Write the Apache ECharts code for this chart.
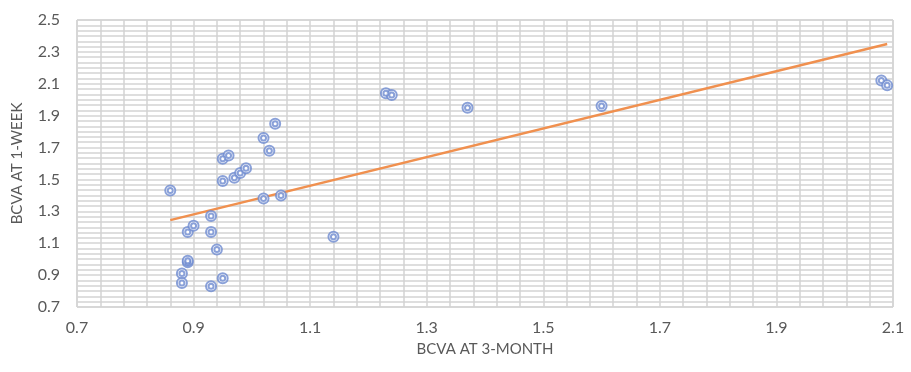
<!DOCTYPE html>
<html>
<head>
<meta charset="utf-8">
<script src="https://cdn.jsdelivr.net/npm/echarts@6/dist/echarts.min.js"></script>
<style>html,body{margin:0;padding:0;background:#fff}#c{width:911px;height:372px}</style>
</head>
<body>
<div id="c"></div>
<script>
// BCVA at 3-month (x) vs BCVA at 1-week (y)
var bcva3Month = [0.86, 0.89, 0.90, 0.89, 0.89, 0.88, 0.88, 0.93, 0.93, 0.94, 0.93, 0.95, 0.95, 0.95, 0.96, 0.97, 0.98, 0.99, 1.02, 1.03, 1.04, 1.02, 1.05, 1.14, 1.23, 1.24, 1.37, 1.60, 2.08, 2.09];
var bcva1Week  = [1.43, 1.17, 1.21, 0.98, 0.99, 0.91, 0.85, 1.27, 1.17, 1.06, 0.83, 0.88, 1.49, 1.63, 1.65, 1.51, 1.54, 1.57, 1.76, 1.68, 1.85, 1.38, 1.40, 1.14, 2.04, 2.03, 1.95, 1.96, 2.12, 2.09];
// Trend line end points
var trendX = [0.86, 2.09];
var trendY = [1.245, 2.35];
var xTicks = [0.7, 0.9, 1.1, 1.3, 1.5, 1.7, 1.9, 2.1];
var yTicks = [0.7, 0.9, 1.1, 1.3, 1.5, 1.7, 1.9, 2.1, 2.3, 2.5];

var pts = bcva3Month.map(function (x, i) { return [x, bcva1Week[i]]; });
var trend = trendX.map(function (x, i) { return [x, trendY[i]]; });

var font = 'Lato, "Open Sans", sans-serif';
var gridCol = '#d4d4d4';
var chart = echarts.init(document.getElementById('c'));
chart.setOption({
  animation: false,
  grid: { left: 77, right: 18, top: 20, bottom: 65, show: true, borderColor: '#bfbfbf', borderWidth: 1 },
  xAxis: {
    type: 'value', min: xTicks[0], max: xTicks[xTicks.length - 1], interval: 0.2,
    name: 'BCVA AT 3-MONTH', nameLocation: 'middle', nameGap: 35,
    nameTextStyle: { fontFamily: font, fontSize: 15, color: '#595959' },
    axisLine: { show: false }, axisTick: { show: false },
    axisLabel: { fontFamily: font, fontSize: 16, color: '#595959', margin: 13,
      formatter: function (v) { return v.toFixed(1); } },
    splitLine: { show: true, lineStyle: { color: gridCol, width: 1.5 } },
    minorTick: { show: false, splitNumber: 5 },
    minorSplitLine: { show: true, lineStyle: { color: gridCol, width: 1.5 } }
  },
  yAxis: {
    type: 'value', min: yTicks[0], max: yTicks[yTicks.length - 1], interval: 0.2,
    name: 'BCVA AT 1-WEEK', nameLocation: 'middle', nameGap: 52,
    nameTextStyle: { fontFamily: font, fontSize: 15, color: '#595959' },
    axisLine: { show: false }, axisTick: { show: false },
    axisLabel: { fontFamily: font, fontSize: 16, color: '#595959', margin: 17,
      formatter: function (v) { return v.toFixed(1); } },
    splitLine: { show: true, lineStyle: { color: gridCol, width: 1.5 } },
    minorTick: { show: false, splitNumber: 6 },
    minorSplitLine: { show: true, lineStyle: { color: gridCol, width: 1.5 } }
  },
  series: [
    { type: 'line', data: trend, symbol: 'none', z: 3,
      lineStyle: { color: '#F0904F', width: 2.5 } },
    { type: 'scatter', data: pts, symbol: 'emptyCircle', symbolSize: 10, z: 4,
      itemStyle: { color: '#6D8ACF', borderWidth: 1 } },
    { type: 'scatter', data: pts, symbol: 'emptyCircle', symbolSize: 5, z: 5,
      itemStyle: { color: '#6D8ACF', borderWidth: 1 } }
  ]
});
</script>
</body>
</html>
